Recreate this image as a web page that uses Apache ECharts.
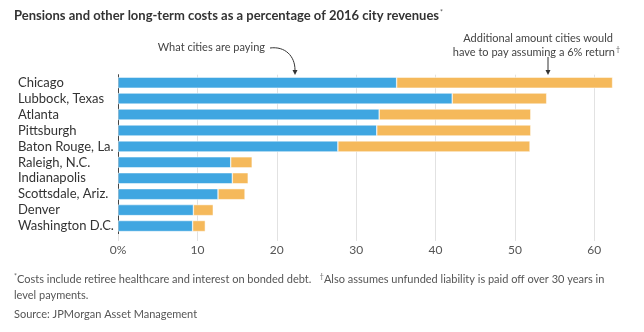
<!DOCTYPE html>
<html><head><meta charset="utf-8">
<script src="https://cdn.jsdelivr.net/npm/echarts@6/dist/echarts.min.js"></script>
<style>html,body{margin:0;padding:0;background:#fff}#c{width:644px;height:332px}</style>
</head><body><div id="c"></div>
<script>
const cities = ['Chicago','Lubbock, Texas','Atlanta','Pittsburgh','Baton Rouge, La.','Raleigh, N.C.','Indianapolis','Scottsdale, Ariz.','Denver','Washington D.C.'];
const paying = [35.1, 42.1, 32.9, 32.6, 27.7, 14.2, 14.4, 12.6, 9.5, 9.4];
const additional = [27.2, 11.9, 19.1, 19.4, 24.2, 2.7, 2.0, 3.4, 2.5, 1.6];
const xTicks = [0, 10, 20, 30, 40, 50, 60];

const chart = echarts.init(document.getElementById('c'));
const F = 'Lato, "Open Sans", sans-serif';
chart.setOption({
  animation: false,
  textStyle: { fontFamily: F },
  grid: { left: 118, right: 10, top: 74.7, bottom: 98 },
  xAxis: {
    type: 'value', min: 0, max: 65, interval: 10,
    axisLine: { show: false },
    axisTick: { show: true, length: 7, lineStyle: { color: '#e2e2e2' } },
    splitLine: { show: true, showMaxLine: false, lineStyle: { color: '#e2e2e2', width: 1 } },
    axisLabel: {
      showMaxLabel: false, margin: 10, color: '#555', fontSize: 12, fontFamily: F,
      formatter: v => xTicks.includes(v) ? (v === 0 ? '0%' : String(v)) : ''
    }
  },
  yAxis: {
    type: 'category', data: cities, inverse: true,
    axisLine: { show: true, lineStyle: { color: '#444', width: 1 } },
    axisTick: { show: false },
    axisLabel: { interval: 0, align: 'left', margin: 100, color: '#333', fontSize: 13, fontFamily: F }
  },
  series: [
    { type: 'bar', stack: 't', data: paying, barWidth: 11,
      itemStyle: { color: '#3fa6e1', borderColor: '#fff', borderWidth: 0.5 } },
    { type: 'bar', stack: 't', data: additional, barWidth: 11,
      itemStyle: { color: '#f5b95b', borderColor: '#fff', borderWidth: 0.5 } }
  ],
  graphic: [
    { type: 'text', left: 14, top: 9, style: {
      text: '{t|Pensions and other long-term costs as a percentage of 2016 city revenues}{s|*}',
      rich: { t: { fontFamily: F, fontSize: 13, fontWeight: 'bold', fill: '#333' },
              s: { fontFamily: F, fontSize: 7, fill: '#555', verticalAlign: 'top', padding: [0,0,6,1] } } } },
    { type: 'text', x: 265, y: 47, style: { text: 'What cities are paying', align: 'right', verticalAlign: 'middle',
      fontFamily: F, fontSize: 11, fill: '#444' } },
    { type: 'bezierCurve', shape: { x1: 270, y1: 48, cpx1: 285, cpy1: 46, cpx2: 295, cpy2: 56, x2: 295, y2: 70 },
      style: { stroke: '#333', lineWidth: 1, fill: null } },
    { type: 'polygon', shape: { points: [[292.5, 70], [297.5, 70], [295, 75]] }, style: { fill: '#333' } },
    { type: 'text', x: 613, y: 38, style: { text: 'Additional amount cities would', align: 'right', verticalAlign: 'middle',
      fontFamily: F, fontSize: 11, fill: '#444' } },
    { type: 'text', x: 620, y: 52, style: { text: 'have to pay assuming a 6% return{s|†}', align: 'right', verticalAlign: 'middle',
      fontFamily: F, fontSize: 11, fill: '#444',
      rich: { s: { fontFamily: F, fontSize: 7, fill: '#555', padding: [0,0,5,1] } } } },
    { type: 'line', shape: { x1: 548, y1: 57, x2: 548, y2: 71 }, style: { stroke: '#333', lineWidth: 1 } },
    { type: 'polygon', shape: { points: [[545.5, 70], [550.5, 70], [548, 75]] }, style: { fill: '#333' } },
    { type: 'text', left: 14, top: 273, style: {
      text: '{s|*}Costs include retiree healthcare and interest on bonded debt.   {s|†}Also assumes unfunded liability is paid off over 30 years in',
      fontFamily: F, fontSize: 11, fill: '#555',
      rich: { s: { fontFamily: F, fontSize: 7, fill: '#666', padding: [0,0,5,0] } } } },
    { type: 'text', left: 14, top: 290, style: { text: 'level payments.', fontFamily: F, fontSize: 11, fill: '#555' } },
    { type: 'text', left: 14, top: 309, style: { text: 'Source: JPMorgan Asset Management', fontFamily: F, fontSize: 11, fill: '#555' } }
  ]
});
</script></body></html>
